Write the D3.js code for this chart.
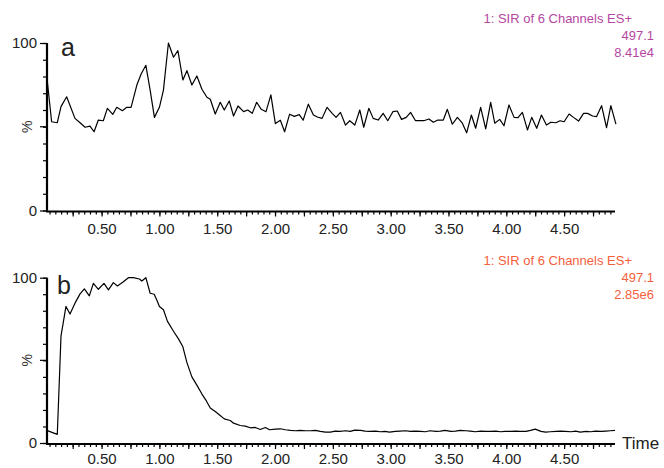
<!DOCTYPE html>
<html>
<head>
  <meta charset="utf-8">
  <title>SIR chromatograms</title>
  <script src="https://d3js.org/d3.v7.min.js"></script>
  <style>
    body { margin: 0; background: #fff; }
    svg { font-family: "Liberation Sans", Arial, sans-serif; }
    .trace { fill: none; stroke: #000; stroke-width: 1.2; stroke-linejoin: round; }
  </style>
</head>
<body>
  <svg width="664" height="468"></svg>

  <script>
    // panel a: 497.1 trace, 8.41e4
    const timesA = [0.025,0.068,0.117,0.149,0.198,0.270,0.314,0.357,0.400,0.435,0.472,0.515,0.550,0.597,0.631,0.680,0.718,0.755,
      0.805,0.842,0.883,0.920,0.957,1.000,1.035,1.078,1.122,1.160,1.203,1.238,1.281,1.324,1.368,1.411,1.440,1.483,1.526,1.561,
      1.604,1.641,1.680,1.728,1.764,1.803,1.841,1.881,1.922,1.964,2.003,2.046,2.083,2.126,2.167,2.210,2.243,2.288,2.332,2.366,
      2.407,2.450,2.494,2.528,2.566,2.609,2.646,2.690,2.733,2.767,2.811,2.849,2.892,2.935,2.975,3.019,3.057,3.094,3.135,3.172,
      3.215,3.250,3.287,3.331,3.369,3.408,3.455,3.490,3.533,3.577,3.620,3.657,3.698,3.735,3.778,3.822,3.865,3.900,3.943,3.980,
      4.023,4.067,4.101,4.139,4.183,4.220,4.263,4.304,4.347,4.385,4.428,4.465,4.500,4.543,4.581,4.625,4.668,4.703,4.746,4.780,
      4.824,4.867,4.904,4.948];
    const valuesA = [80.9,53.0,52.4,62.0,67.9,55.0,52.4,49.7,50.4,47.0,54.0,53.6,61.0,57.4,61.6,59.6,61.6,61.6,
      74.9,81.5,86.7,71.9,55.6,61.6,71.9,100,91.5,95.4,77.9,83.5,74.9,80.3,72.4,67.6,66.4,57.6,64.6,60.0,
      65.4,56.4,62.4,59.0,60.0,58.0,64.6,60.4,59.0,69.0,51.9,53.9,47.0,57.5,56.2,57.2,53.9,63.5,57.0,55.8,
      55.0,61.6,58.0,55.6,58.6,51.0,53.6,51.0,60.0,49.7,61.0,55.0,54.0,58.0,53.6,59.0,59.4,54.4,55.6,58.6,
      53.6,53.6,53.6,54.6,52.7,54.0,54.0,60.4,51.5,55.6,52.1,46.4,57.0,49.1,61.6,48.7,64.6,52.1,54.4,50.6,
      63.0,55.6,55.4,58.6,48.1,55.6,49.1,57.0,51.0,52.7,52.4,53.6,53.0,57.6,55.6,53.4,58.0,58.0,56.4,56.0,
      62.6,49.4,62.6,51.6];

    // panel b: 497.1 trace, 2.85e6
    const timesB = [0.025,0.117,0.149,0.192,0.227,0.270,0.314,0.351,0.394,0.429,0.472,0.521,0.559,0.602,0.637,0.683,0.732,
      0.775,0.827,0.848,0.883,0.920,0.955,0.983,1.000,1.035,1.070,1.122,1.165,1.203,1.238,1.281,1.324,1.368,1.405,1.440,
      1.483,1.526,1.561,1.613,1.641,1.699,1.743,1.786,1.829,1.873,1.916,1.953,2.003,2.046,2.089,2.133,2.176,2.219,2.262,
      2.306,2.349,2.392,2.436,2.479,2.52,2.56,2.61,2.65,2.69,2.74,2.78,2.82,2.87,2.91,2.95,2.99,3.04,3.08,3.13,3.17,3.21,
      3.26,3.30,3.34,3.39,3.43,3.47,3.52,3.56,3.60,3.65,3.69,3.73,3.78,3.82,3.86,3.91,3.95,3.99,4.04,4.08,4.12,4.17,4.21,
      4.25,4.30,4.34,4.38,4.43,4.47,4.51,4.56,4.60,4.64,4.69,4.73,4.77,4.82,4.86,4.90,4.94];
    const valuesB = [7.6,5.2,64.6,82.6,78,84.6,90.2,93.2,89,96.6,93,96.6,92.6,97,95,97.2,100,
      100,99.2,98,100,90.6,90,85.6,82.6,80.6,73.6,67.6,63,58.2,48.6,40,35,29.6,25.6,21.2,
      19,16.6,14.6,13.6,12,10.6,10.2,9.2,9.4,8.2,9.4,8,8.4,8.6,8,7.6,7.4,7.6,7.4,
      7.4,7.6,7.0,6.6,6.6,7.2,7.0,7.4,7.0,7.8,7.6,7.2,7.0,7.2,6.8,7.0,6.6,7.0,7.2,7.4,7.0,7.2,
      7.0,6.8,7.4,7.0,7.2,7.6,7.0,7.2,7.6,7.4,7.2,6.8,7.2,7.0,7.0,7.2,6.8,7.0,7.0,7.2,7.0,7.0,7.6,
      8.4,7.0,6.6,6.8,7.0,7.2,7.0,6.8,7.2,6.6,7.0,6.8,7.2,7.0,7.2,7.4,7.6];

    const timeTicks = [0.5, 1.0, 1.5, 2.0, 2.5, 3.0, 3.5, 4.0, 4.5];
    const headerA = ["1: SIR of 6 Channels ES+", "497.1", "8.41e4"];
    const headerB = ["1: SIR of 6 Channels ES+", "497.1", "2.85e6"];

    const svg = d3.select("svg");
    const x = d3.scaleLinear().domain([0.028, 4.94]).range([47, 615]);

    const panels = [
      { letter: "a", t: timesA, v: valuesA, header: headerA, color: "#b5479f", top: 43, bottom: 210.5, hy: 23 },
      { letter: "b", t: timesB, v: valuesB, header: headerB, color: "#f5603c", top: 277.7, bottom: 443, hy: 265 }
    ];

    panels.forEach(p => {
      const y = d3.scaleLinear().domain([0, 100]).range([p.bottom, p.top]);
      const g = svg.append("g");

      // minor ticks along time axis
      const minor = d3.range(0.05, 4.95, 0.05);
      g.append("g")
        .attr("transform", `translate(0,${p.bottom + 1})`)
        .call(d3.axisBottom(x).tickValues(minor).tickSize(3).tickFormat(""))
        .call(a => a.select(".domain").remove())
        .call(a => a.selectAll("line").attr("stroke-width", 1.2));
      g.append("g")
        .attr("transform", `translate(0,${p.bottom + 1})`)
        .call(d3.axisBottom(x).tickValues(d3.range(0.25, 4.95, 0.25)).tickSize(5).tickFormat(""))
        .call(a => a.select(".domain").remove())
        .call(a => a.selectAll("line").attr("stroke-width", 1.2));
      const xa = g.append("g")
        .attr("transform", `translate(0,${p.bottom + 1})`)
        .call(d3.axisBottom(x).tickValues(timeTicks).tickSize(0).tickPadding(p.letter === "a" ? 12 : 9).tickFormat(d3.format(".2f")));
      xa.select(".domain").remove();
      xa.selectAll("text").attr("font-size", 15).attr("fill", "#222").attr("font-family", "Liberation Sans, Arial, sans-serif");

      // y ticks
      g.append("g")
        .attr("transform", "translate(47,0)")
        .call(d3.axisLeft(y).tickValues(d3.range(0, 101, 10)).tickSize(4).tickFormat(""))
        .call(a => a.select(".domain").remove())
        .call(a => a.selectAll("line").attr("stroke-width", 1.2));
      const ya = g.append("g")
        .attr("transform", "translate(47,0)")
        .call(d3.axisLeft(y).tickValues([0, 100]).tickSize(7).tickPadding(3).tickFormat(d3.format("d")));
      ya.select(".domain").remove();
      ya.selectAll("line").attr("stroke-width", 1.2);
      ya.selectAll("text").attr("font-size", 15).attr("fill", "#222").attr("font-family", "Liberation Sans, Arial, sans-serif");
      g.append("line").attr("x1", 40).attr("x2", 47).attr("y1", y(50)).attr("y2", y(50)).attr("stroke", "#000").attr("stroke-width", 1.2);

      // axis lines
      g.append("line").attr("x1", 47).attr("x2", 47).attr("y1", p.top).attr("y2", p.bottom + 1)
        .attr("stroke", "#000").attr("stroke-width", 2.2);
      g.append("line").attr("x1", 46).attr("x2", 615).attr("y1", p.bottom + 1).attr("y2", p.bottom + 1)
        .attr("stroke", "#000").attr("stroke-width", 2);

      g.append("text")
        .attr("transform", `translate(32,${y(50)}) rotate(-90)`)
        .attr("text-anchor", "middle")
        .attr("font-size", 14).attr("fill", "#333")
        .text("%");

      const line = d3.line().x((d, i) => x(p.t[i])).y(d => y(d));
      g.append("path").datum(p.v).attr("class", "trace").attr("d", line);

      g.append("text")
        .attr("x", p.letter === "a" ? 61 : 57)
        .attr("y", p.top + (p.letter === "a" ? 13 : 16))
        .attr("font-size", 25).attr("fill", "#222")
        .text(p.letter);

      const h = g.append("g").attr("fill", p.color).attr("font-size", 13);
      h.append("text").attr("x", 632).attr("y", p.hy).attr("text-anchor", "end").text(p.header[0]);
      h.append("text").attr("x", 654).attr("y", p.hy + 17).attr("text-anchor", "end").text(p.header[1]);
      h.append("text").attr("x", 654).attr("y", p.hy + 34).attr("text-anchor", "end").text(p.header[2]);
    });

    svg.append("text").attr("x", 622).attr("y", 449)
      .attr("font-size", 17).attr("fill", "#222")
      .text("Time");
  </script>
</body>
</html>
